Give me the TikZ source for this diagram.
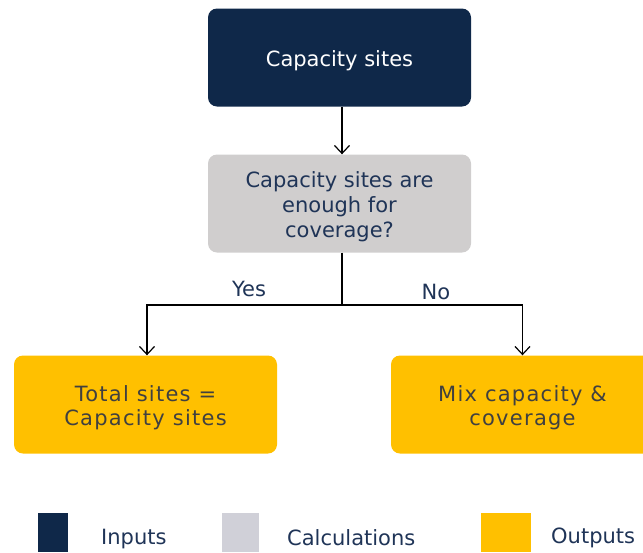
\documentclass[tikz,border=0pt]{standalone}
\usepackage{fontspec}
\setmainfont{DejaVu Sans}
\newfontfamily\spaced[LetterSpace=6]{DejaVu Sans}
\usetikzlibrary{arrows.meta}
\definecolor{navy}{HTML}{0F2849}
\definecolor{grayfill}{HTML}{D0CECE}
\definecolor{navytext}{HTML}{1F3457}
\definecolor{yellowfill}{HTML}{FFC000}
\definecolor{darktext}{HTML}{404040}
\definecolor{legendgray}{HTML}{D0D0D8}
\newcommand{\lowertext}[1]{\raisebox{0pt}[\dimexpr\height+8pt\relax][\depth]{\begin{tabular}{@{}c@{}}#1\end{tabular}}}
\tikzset{
  box/.style={rounded corners=9pt, minimum width=263pt, minimum height=98pt, align=center, inner sep=0pt},
  inbox/.style={box, fill=navy, text=white, font=\fontsize{21}{25}\selectfont},
  calcbox/.style={box, fill=grayfill, text=navytext, font=\fontsize{21}{25}\selectfont},
  outbox/.style={box, fill=yellowfill, text=darktext, font=\spaced\fontsize{21}{24}\selectfont},
  conn/.style={draw=black, line width=1.2pt},
  arr/.style={conn, -{Straight Barb[length=8pt,width=15pt,line width=1.2pt]}},
  lbl/.style={text=navytext, font=\fontsize{21}{25}\selectfont},
  legsq/.style={minimum width=30pt, minimum height=39pt, inner sep=0pt},
  legtxt/.style={text=navytext, font=\fontsize{21}{25}\selectfont, anchor=west, inner sep=0pt}
}
\begin{document}
\begin{tikzpicture}[x=1pt,y=-1pt]
\useasboundingbox (0,0) rectangle (643,552);
\node[inbox] (inp) at (339.5,57.5) {\lowertext{Capacity sites}};
\node[calcbox] (calc) at (339.5,203.5) {\lowertext{Capacity sites are\\enough for\\coverage?}};
\node[outbox] (yes) at (145.5,404.5) {\lowertext{Total sites =\\Capacity sites}};
\node[outbox] (no) at (522.5,404.5) {\lowertext{Mix capacity \&\\coverage}};
\coordinate (split) at (342,305);
\draw[arr] (inp.south -| split) -- (calc.north -| split);
\draw[conn] (calc.south -| split) -- (split);
\draw[arr] (split) -| (yes.north -| 147,0);
\draw[arr] (split) -| (no.north);
\node[lbl] (ylab) at (249,289) {Yes};
\node[lbl] (nlab) at (436,292) {No};
\node[legsq, fill=navy] (l1) at (53,532.5) {};
\node[legsq, fill=legendgray, minimum width=37pt] (l2) at (240.5,532.5) {};
\node[legsq, fill=yellowfill, minimum width=50pt] (l3) at (506,532.5) {};
\node[legtxt] (t1) at (101,539) {Inputs};
\node[legtxt] (t2) at (287,538) {Calculations};
\node[legtxt] (t3) at (551,538) {Outputs};
\end{tikzpicture}
\end{document}
